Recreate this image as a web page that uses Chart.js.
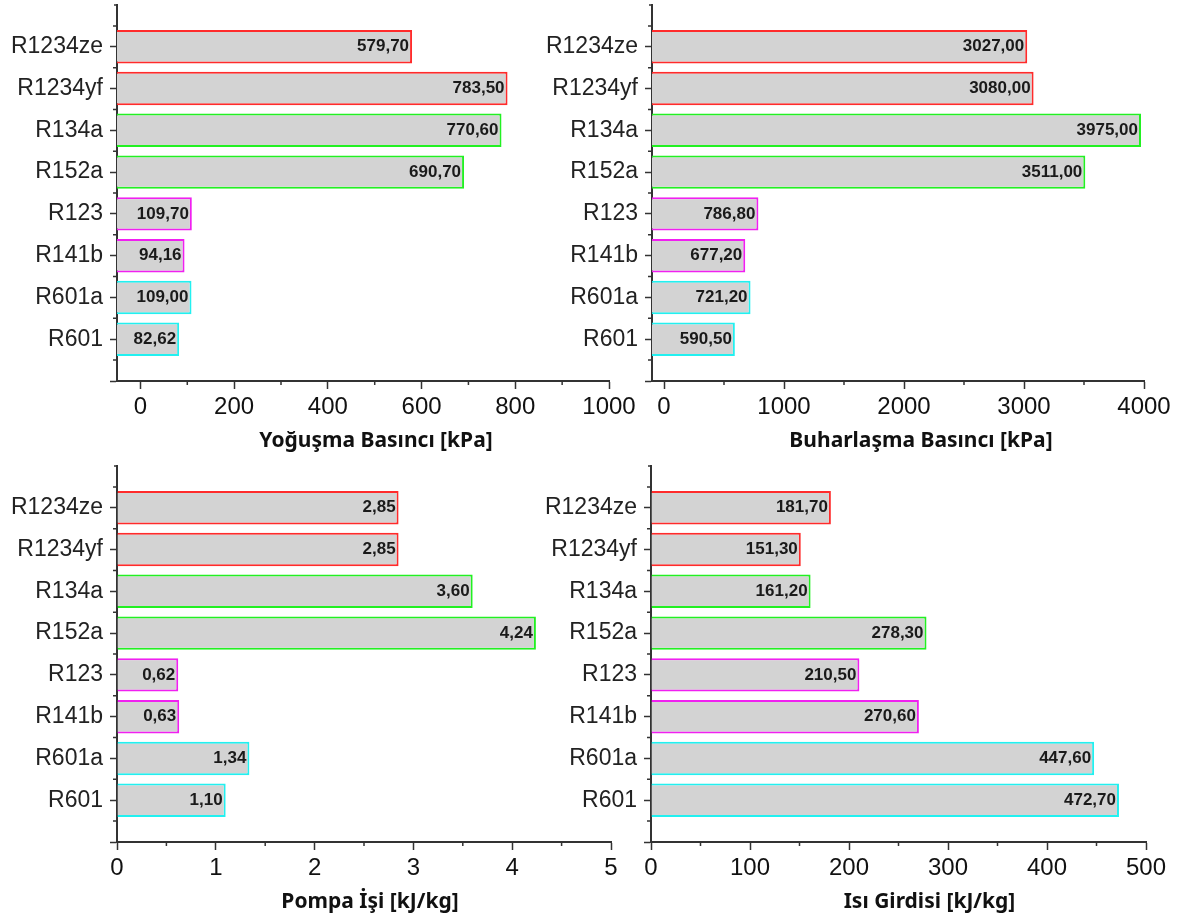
<!DOCTYPE html>
<html>
<head>
<meta charset="utf-8">
<script src="https://cdn.jsdelivr.net/npm/chart.js@4.4.1/dist/chart.umd.min.js"></script>
<style>
  html, body { margin: 0; padding: 0; background: #fff; }
  #wrap { position: relative; width: 1181px; height: 919px; overflow: hidden; }
  canvas { position: absolute; }
</style>
</head>
<body>
<div id="wrap">
  <canvas id="cond" width="650" height="460" style="left:0;top:0"></canvas>
  <canvas id="evap" width="646" height="460" style="left:535px;top:0"></canvas>
  <canvas id="pump" width="650" height="459" style="left:0;top:460px"></canvas>
  <canvas id="heat" width="646" height="459" style="left:535px;top:460px"></canvas>
</div>
<script>
const refrigerants = ["R1234ze", "R1234yf", "R134a", "R152a", "R123", "R141b", "R601a", "R601"];
const condensingPressure = [579.70, 783.50, 770.60, 690.70, 109.70, 94.16, 109.00, 82.62];
const evaporatingPressure = [3027.00, 3080.00, 3975.00, 3511.00, 786.80, 677.20, 721.20, 590.50];
const pumpWork = [2.85, 2.85, 3.60, 4.24, 0.62, 0.63, 1.34, 1.10];
const heatInput = [181.70, 151.30, 161.20, 278.30, 210.50, 270.60, 447.60, 472.70];

const condTicks = [0, 200, 400, 600, 800, 1000];
const evapTicks = [0, 1000, 2000, 3000, 4000];
const pumpTicks = [0, 1, 2, 3, 4, 5];
const heatTicks = [0, 100, 200, 300, 400, 500];

// bar outline per refrigerant group
const edgeColors = ["#ff2b2b", "#ff2b2b", "#22f022", "#22f022", "#f020f0", "#f020f0", "#22f0f0", "#22f0f0"];
const axisColor = "#333";
const sans = '"Liberation Sans", Arial, sans-serif';

const fmt = v => v.toFixed(2).replace(".", ",");

const decor = {
  id: "decor",
  afterDraw(chart, args, opts) {
    const ctx = chart.ctx;
    const x = chart.scales.x, y = chart.scales.y;
    ctx.save();
    ctx.strokeStyle = axisColor;
    ctx.lineWidth = 1.5;
    ctx.beginPath();
    // minor ticks on x, halfway between the majors
    const majors = opts.ticks;
    for (let i = 0; i < majors.length - 1; i++) {
      const px = x.getPixelForValue((majors[i] + majors[i + 1]) / 2);
      ctx.moveTo(px, x.top);
      ctx.lineTo(px, x.top + 4);
    }
    // minor ticks on y between categories
    for (let i = 0; i < y.ticks.length - 1; i++) {
      const py = y.getPixelForValue(i + 0.5);
      ctx.moveTo(y.right - 4, py);
      ctx.lineTo(y.right, py);
    }
    const top = y.getPixelForValue(0);
    ctx.moveTo(y.right - 3, top);
    ctx.lineTo(y.right, top);
    ctx.stroke();

    // value labels at the end of each bar
    const ds = chart.data.datasets[0];
    ctx.font = "bold 17px " + sans;
    ctx.fillStyle = "#1a1a1a";
    ctx.textAlign = "right";
    ctx.textBaseline = "middle";
    chart.getDatasetMeta(0).data.forEach((bar, i) => {
      const v = ds.data[i];
      if (v == null) return;
      ctx.fillText(fmt(v), bar.x - 3, bar.y);
    });

    // axis title
    ctx.font = 'bold 21px "Noto Sans", sans-serif';
    ctx.fillStyle = "#111";
    ctx.textAlign = "center";
    ctx.fillText(opts.title, (x.left + x.right) / 2 + opts.dx, x.top + 60);
    ctx.restore();
  }
};

function makeChart(id, values, ticks, xMin, xMax, title, dx, box) {
  new Chart(document.getElementById(id), {
    type: "bar",
    data: {
      labels: ["", ...refrigerants, ""],
      datasets: [{
        data: [null, ...values, null],
        base: xMin,
        backgroundColor: "#d3d3d3",
        borderColor: ["transparent", ...edgeColors, "transparent"],
        borderWidth: 2,
        borderSkipped: "start",
        barPercentage: 0.8,
        categoryPercentage: 1
      }]
    },
    options: {
      indexAxis: "y",
      responsive: false,
      devicePixelRatio: 1,
      animation: false,
      layout: { padding: { top: box.top, right: box.right, left: 0, bottom: 0 } },
      plugins: {
        legend: { display: false },
        tooltip: { enabled: false },
        decor: { ticks: ticks, title: title, dx: dx }
      },
      scales: {
        x: {
          type: "linear",
          min: xMin,
          max: xMax,
          afterBuildTicks: s => { s.ticks = ticks.map(v => ({ value: v })); },
          afterFit: s => { s.height = box.xh; s.paddingLeft = 0; s.paddingRight = 0; },
          grid: { drawOnChartArea: false, tickLength: 8, tickColor: axisColor, tickWidth: 1.5 },
          border: { color: axisColor, width: 2 },
          ticks: {
            font: { family: sans, size: 24 },
            color: "#111",
            padding: 4,
            maxRotation: 0,
            autoSkip: false,
            callback: v => String(v)
          }
        },
        y: {
          type: "category",
          offset: false,
          z: 1,
          afterFit: s => { s.width = box.yw; s.paddingTop = 0; s.paddingBottom = 0; },
          grid: {
            offset: false,
            drawOnChartArea: false,
            tickLength: 7,
            tickWidth: 1.5,
            tickColor: c => c.index === 0 ? "rgba(0,0,0,0)" : axisColor
          },
          border: { color: axisColor, width: 2 },
          ticks: { font: { family: sans, size: 23 }, color: "#222", padding: 7, autoSkip: false }
        }
      }
    },
    plugins: [decor]
  });
}

makeChart("cond", condensingPressure, condTicks, -50, 1000, "Yoğuşma Basıncı [kPa]", 13,
  { top: 5, right: 41, xh: 79, yw: 117 });
makeChart("evap", evaporatingPressure, evapTicks, -100, 4000, "Buharlaşma Basıncı [kPa]", 23,
  { top: 5, right: 37, xh: 79, yw: 117 });
makeChart("pump", pumpWork, pumpTicks, 0, 5, "Pompa İşi [kJ/kg]", 6,
  { top: 6, right: 39, xh: 77, yw: 117 });
makeChart("heat", heatInput, heatTicks, 0, 500, "Isı Girdisi [kJ/kg]", 31,
  { top: 6, right: 35, xh: 77, yw: 116 });
</script>
</body>
</html>
